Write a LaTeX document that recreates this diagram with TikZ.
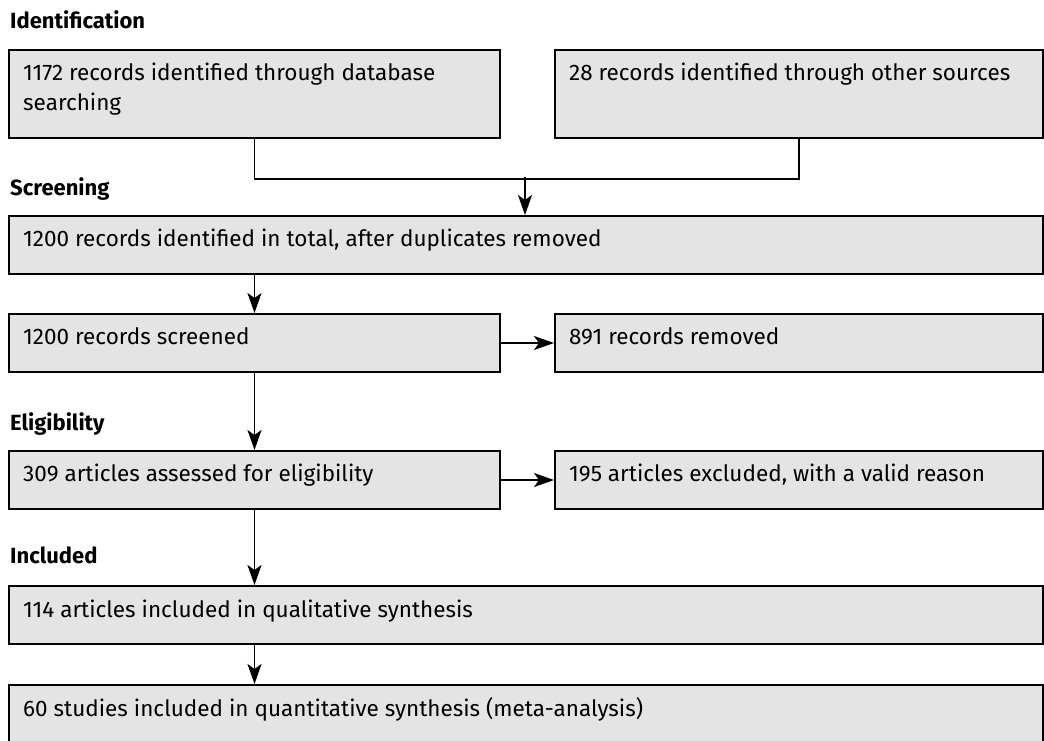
\documentclass[tikz,border=0pt]{standalone}
\usepackage{fontspec}
\setmainfont{Fira Sans}
\usetikzlibrary{arrows.meta}
\definecolor{boxfill}{HTML}{E4E4E4}
\tikzset{
  box/.style={draw=black, fill=boxfill, line width=2pt, anchor=north west, inner sep=0pt, minimum height=58pt},
  txt/.style={anchor=base west, inner sep=0pt, font=\fontsize{22.5}{30}\selectfont},
  head/.style={anchor=base west, inner sep=0pt, font=\bfseries\fontsize{22}{24}\selectfont},
  conn/.style={line width=1.8pt},
  arr/.style={conn, -{Stealth[length=20pt,width=14pt,inset=5pt]}},
}
\begin{document}
\begin{tikzpicture}[x=1pt,y=-1pt]
\useasboundingbox (0,0) rectangle (1044,740);
% stage labels
\node[head] (l1) at (10,28) {Identification};
\node[head] (l2) at (10,195) {Screening};
\node[head] (l3) at (10,430) {Eligibility};
\node[head] (l4) at (10,563) {Included};
% boxes
\node[box, minimum width=491pt, minimum height=88pt] (b1) at (8,49) {};
\node[box, minimum width=488pt, minimum height=88pt] (b2) at (554,49) {};
\node[box, minimum width=1034pt] (b3) at (8,215) {};
\node[box, minimum width=491pt] (b4) at (8,313) {};
\node[box, minimum width=488pt] (b5) at (554,313) {};
\node[box, minimum width=491pt] (b6) at (8,450) {};
\node[box, minimum width=488pt] (b7) at (554,450) {};
\node[box, minimum width=1034pt] (b8) at (8,585) {};
\node[box, minimum width=1034pt] (b9) at (8,684) {};
% texts
\node[txt] (t1) at (23,80) {\parbox[t]{460pt}{1172 records identified through database\\searching}};
\node[txt] (t2) at (569,80) {28 records identified through other sources};
\node[txt] (t3) at (23,246) {1200 records identified in total, after duplicates removed};
\node[txt] (t4) at (23,344) {1200 records screened};
\node[txt] (t5) at (569,344) {891 records removed};
\node[txt] (t6) at (23,481) {309 articles assessed for eligibility};
\node[txt] (t7) at (569,481) {195 articles excluded, with a valid reason};
\node[txt] (t8) at (23,617) {114 articles included in qualitative synthesis};
\node[txt] (t9) at (23,716) {60 studies included in quantitative synthesis (meta-analysis)};
% connectors
\coordinate (j) at (525,177);
\draw[conn] (b1.south) -- ++(0,40) -| (b2.south);
\draw[arr] (j) -- (j |- b3.north);
\draw[arr] (b3.south -| b4.north) -- (b4.north);
\draw[arr] (b4.east) -- (b5.west);
\draw[arr] (b4.south) -- (b6.north);
\draw[arr] (b6.east) -- (b7.west);
\draw[arr] (b6.south) -- (b8.north -| b6.south);
\draw[arr] (b8.south -| b6.south) -- (b9.north -| b6.south);
\end{tikzpicture}
\end{document}
